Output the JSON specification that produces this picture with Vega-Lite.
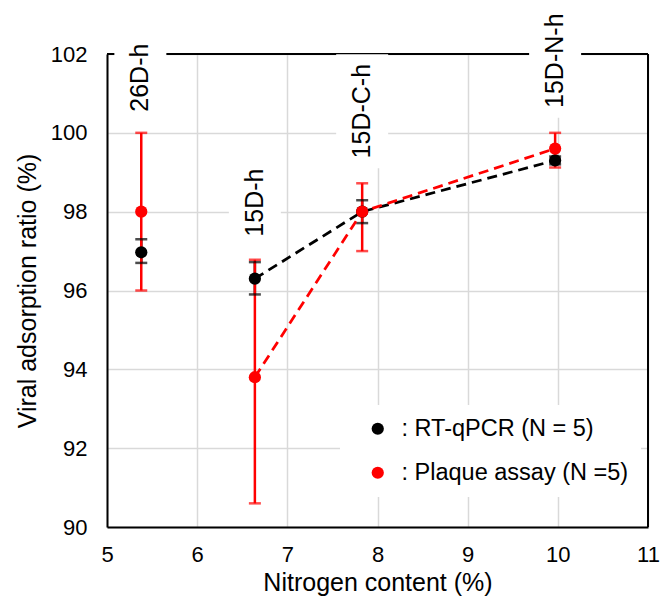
{
  "$schema": "https://vega.github.io/schema/vega-lite/v6.json",
  "width": 541,
  "height": 473,
  "autosize": {"type": "none"},
  "padding": {"left": 107, "top": 54, "right": 13, "bottom": 73},
  "background": "white",
  "config": {
    "view": {"stroke": null},
    "font": "Liberation Sans",
    "axis": {
      "grid": true,
      "gridColor": "#d9d9d9",
      "gridWidth": 1.5,
      "domainColor": "black",
      "domainWidth": 2,
      "ticks": false,
      "labelFont": "Liberation Sans",
      "labelFontSize": 22,
      "labelColor": "black",
      "labelFlush": false,
      "titleFont": "Liberation Sans",
      "titleFontSize": 25,
      "titleFontWeight": "normal",
      "titleColor": "black"
    },
    "axisX": {"labelPadding": 17, "titlePadding": 5},
    "axisY": {"labelPadding": 20, "titlePadding": 10}
  },
  "datasets": {
    "pts": [
      {"method": "RT-qPCR", "sample": "26D-h", "x": 5.38, "y": 96.97, "lo": 96.7, "hi": 97.3},
      {"method": "RT-qPCR", "sample": "15D-h", "x": 6.64, "y": 96.3, "lo": 95.9, "hi": 96.72},
      {"method": "RT-qPCR", "sample": "15D-C-h", "x": 7.83, "y": 98.0, "lo": 97.71, "hi": 98.29},
      {"method": "RT-qPCR", "sample": "15D-N-h", "x": 9.97, "y": 99.3, "lo": 99.2, "hi": 99.4},
      {"method": "Plaque assay", "sample": "26D-h", "x": 5.38, "y": 98.0, "lo": 96.0, "hi": 100.0},
      {"method": "Plaque assay", "sample": "15D-h", "x": 6.64, "y": 93.8, "lo": 90.6, "hi": 96.78},
      {"method": "Plaque assay", "sample": "15D-C-h", "x": 7.83, "y": 98.0, "lo": 97.0, "hi": 98.72},
      {"method": "Plaque assay", "sample": "15D-N-h", "x": 9.97, "y": 99.6, "lo": 99.12, "hi": 100.0}
    ],
    "labels": [
      {"label": "26D-h", "lx": 5.37, "ly": 101.4},
      {"label": "15D-h", "lx": 6.64, "ly": 98.23},
      {"label": "15D-C-h", "lx": 7.83, "ly": 100.55},
      {"label": "15D-N-h", "lx": 9.97, "ly": 101.83}
    ]
  },
  "layer": [
    {
      "data": {"values": [{}]},
      "mark": {"type": "rule", "color": "black", "strokeWidth": 2},
      "encoding": {
        "x": {"datum": 5, "type": "quantitative", "scale": {"domain": [5, 11]}},
        "x2": {"datum": 11},
        "y": {"datum": 102, "type": "quantitative", "scale": {"domain": [90, 102]}}
      }
    },
    {
      "data": {"values": [{}]},
      "mark": {"type": "rule", "color": "black", "strokeWidth": 2},
      "encoding": {
        "x": {"datum": 11, "type": "quantitative"},
        "y": {"datum": 90, "type": "quantitative"},
        "y2": {"datum": 102}
      }
    },
    {
      "data": {"name": "labels"},
      "transform": [{"filter": "length(datum.label) <= 5"}],
      "mark": {"type": "rect", "color": "white", "xOffset": -26, "x2Offset": 26, "yOffset": -43, "y2Offset": 43},
      "encoding": {
        "x": {"field": "lx", "type": "quantitative"},
        "x2": {"field": "lx"},
        "y": {"field": "ly", "type": "quantitative"},
        "y2": {"field": "ly"}
      }
    },
    {
      "data": {"name": "labels"},
      "transform": [{"filter": "length(datum.label) > 5"}],
      "mark": {"type": "rect", "color": "white", "xOffset": -26, "x2Offset": 26, "yOffset": -57, "y2Offset": 57},
      "encoding": {
        "x": {"field": "lx", "type": "quantitative"},
        "x2": {"field": "lx"},
        "y": {"field": "ly", "type": "quantitative"},
        "y2": {"field": "ly"}
      }
    },
    {
      "data": {"name": "pts"},
      "mark": {"type": "rule", "strokeWidth": 2.5},
      "encoding": {
        "x": {"field": "x", "type": "quantitative", "scale": {"domain": [5, 11]}, "axis": {"title": "Nitrogen content (%)", "values": [5, 6, 7, 8, 9, 10, 11], "format": "d"}},
        "y": {"field": "lo", "type": "quantitative", "scale": {"domain": [90, 102]}, "axis": {"title": "Viral adsorption ratio (%)", "values": [90, 92, 94, 96, 98, 100, 102], "format": "d"}},
        "y2": {"field": "hi"},
        "stroke": {"condition": {"test": "datum.method == 'RT-qPCR'", "value": "black"}, "value": "#ff0000"}
      }
    },
    {
      "data": {"name": "pts"},
      "mark": {"type": "tick", "orient": "horizontal", "size": 12, "thickness": 2.5},
      "encoding": {
        "x": {"field": "x", "type": "quantitative"},
        "y": {"field": "lo", "type": "quantitative"},
        "fill": {"condition": {"test": "datum.method == 'RT-qPCR'", "value": "black"}, "value": "#ff0000"}
      }
    },
    {
      "data": {"name": "pts"},
      "mark": {"type": "tick", "orient": "horizontal", "size": 12, "thickness": 2.5},
      "encoding": {
        "x": {"field": "x", "type": "quantitative"},
        "y": {"field": "hi", "type": "quantitative"},
        "fill": {"condition": {"test": "datum.method == 'RT-qPCR'", "value": "black"}, "value": "#ff0000"}
      }
    },
    {
      "data": {"name": "pts"},
      "transform": [{"filter": "datum.sample != '26D-h'"}],
      "mark": {"type": "line", "strokeDash": [10, 6], "strokeWidth": 2.75},
      "encoding": {
        "x": {"field": "x", "type": "quantitative"},
        "y": {"field": "y", "type": "quantitative"},
        "detail": {"field": "method"},
        "stroke": {"condition": {"test": "datum.method == 'RT-qPCR'", "value": "black"}, "value": "#ff0000"}
      }
    },
    {
      "data": {"name": "pts"},
      "mark": {"type": "point", "shape": "circle", "filled": true, "size": 150, "opacity": 1},
      "encoding": {
        "x": {"field": "x", "type": "quantitative"},
        "y": {"field": "y", "type": "quantitative"},
        "color": {
          "field": "method", "type": "nominal",
          "scale": {"domain": ["RT-qPCR", "Plaque assay"], "range": ["black", "#ff0000"]},
          "legend": {
            "title": null,
            "orient": "none",
            "legendX": 233,
            "legendY": 351,
            "padding": 12,
            "fillColor": "white",
            "strokeColor": null,
            "symbolType": "circle",
            "symbolSize": 150,
            "symbolStrokeWidth": 0,
            "symbolOffset": 14,
            "labelOffset": 12,
            "rowPadding": 19,
            "labelFont": "Liberation Sans",
            "labelFontSize": 23.5,
            "labelColor": "black",
            "labelLimit": 400,
            "labelExpr": "datum.label == 'RT-qPCR' ? ': RT-qPCR (N = 5)' : ': Plaque assay (N =5)'"
          }
        }
      }
    },
    {
      "data": {"name": "labels"},
      "mark": {"type": "text", "angle": 270, "align": "center", "baseline": "middle", "fontSize": 25, "font": "Liberation Sans", "color": "black"},
      "encoding": {
        "x": {"field": "lx", "type": "quantitative"},
        "y": {"field": "ly", "type": "quantitative"},
        "text": {"field": "label"}
      }
    }
  ]
}
